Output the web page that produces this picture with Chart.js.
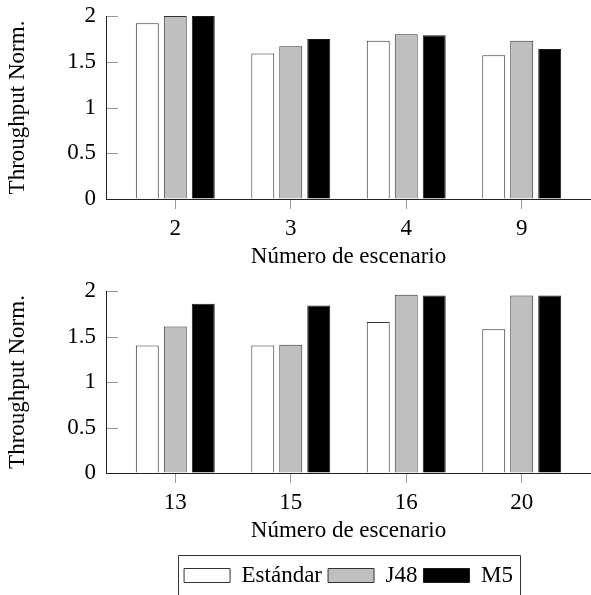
<!DOCTYPE html>
<html><head><meta charset="utf-8">
<script src="https://cdn.jsdelivr.net/npm/chart.js@4.4.1/dist/chart.umd.min.js"></script>
<style>
html,body{margin:0;padding:0;background:#fff;width:591px;height:595px;overflow:hidden;position:relative}
canvas{position:absolute;left:0;display:block}
</style></head><body>
<canvas id="chartTop" width="591" height="280" style="top:0"></canvas>
<canvas id="chartBot" width="591" height="327" style="top:270px"></canvas>
<script>
const seriesNames = ['Estándar', 'J48', 'M5'];
const topCategories = ['2', '3', '4', '9'];
const topEstandar = [1.92, 1.59, 1.73, 1.57];
const topJ48 = [2.00, 1.67, 1.80, 1.73];
const topM5 = [2.00, 1.75, 1.79, 1.64];
const botCategories = ['13', '15', '16', '20'];
const botEstandar = [1.40, 1.40, 1.66, 1.58];
const botJ48 = [1.61, 1.41, 1.96, 1.95];
const botM5 = [1.86, 1.84, 1.95, 1.95];
const yTicks = [0, 0.5, 1, 1.5, 2];
const yTickLabels = ['0', '0.5', '1', '1.5', '2'];
const yTitle = 'Throughput Norm.';
const xTitle = 'Número de escenario';

const FONT = 'Liberation Serif';
Chart.defaults.font.family = FONT;
Chart.defaults.font.size = 23;
Chart.defaults.color = '#000';

const fills = ['#ffffff', '#bfbfbf', '#000000'];
const borders = ['#333333', '#333333', '#1a1a1a'];

const insideTicks = {
  id: 'insideTicks',
  afterDatasetsDraw(chart) {
    const y = chart.scales.y, a = chart.chartArea, ctx = chart.ctx;
    ctx.save();
    ctx.strokeStyle = '#9a9a9a';
    ctx.lineWidth = 1;
    y.ticks.forEach(t => {
      if (t.value === 0) return;
      const py = Math.round(y.getPixelForValue(t.value)) + 0.5;
      ctx.beginPath();
      ctx.moveTo(a.left + 1, py);
      ctx.lineTo(a.left + 12, py);
      ctx.stroke();
    });
    ctx.restore();
  }
};

const legendBorder = {
  id: 'legendBorder',
  afterDraw(chart) {
    const lg = chart.legend;
    if (!lg || !lg.options.display || !lg.legendHitBoxes || !lg.legendHitBoxes.length) return;
    const hb = lg.legendHitBoxes;
    const first = hb[0], last = hb[hb.length - 1];
    const left = Math.round(first.left - 6) + 0.5;
    const right = Math.round(last.left + last.width + 7) + 0.5;
    const top = Math.round(first.top - 9) + 0.5;
    const ctx = chart.ctx;
    ctx.save();
    ctx.strokeStyle = '#333';
    ctx.lineWidth = 1;
    ctx.beginPath();
    ctx.moveTo(left, chart.height + 5);
    ctx.lineTo(left, top);
    ctx.lineTo(right, top);
    ctx.lineTo(right, chart.height + 5);
    ctx.stroke();
    ctx.restore();
  }
};

function makeDatasets(values) {
  return values.map((vals, k) => ({
    label: seriesNames[k],
    data: vals.map((v, i) => ({x: i, y: v})),
    backgroundColor: fills[k],
    borderColor: borders[k],
    borderWidth: 1,
    categoryPercentage: 0.727,
    barPercentage: 0.82
  }));
}

function makeChart(id, cats, values, padTop, showLegend, xHeight, titlePad) {
  return new Chart(document.getElementById(id), {
    type: 'bar',
    data: {datasets: makeDatasets(values)},
    options: {
      responsive: false,
      animation: false,
      devicePixelRatio: 1,
      layout: {padding: {top: padTop, left: 0, right: 0, bottom: 0}},
      plugins: {
        tooltip: {enabled: false},
        legend: {
          display: showLegend,
          position: 'bottom',
          fullSize: false,
          labels: {boxWidth: 46, boxHeight: 14, padding: 6, color: '#000',
                   font: {family: FONT, size: 23}}
        }
      },
      scales: {
        x: {
          type: 'linear',
          offset: false,
          min: -0.6, max: 3.6,
          afterBuildTicks: s => { s.ticks = cats.map((c, i) => ({value: i})); },
          afterFit: s => { s.height = xHeight; },
          ticks: {callback: v => cats[v], padding: 8, font: {size: 23, lineHeight: 1}, maxRotation: 0},
          grid: {offset: false, drawOnChartArea: false, drawTicks: true, tickLength: 10, tickColor: '#9a9a9a', tickWidth: 1},
          border: {display: true, color: '#222', width: 1},
          title: {display: true, text: xTitle, font: {size: 23}, padding: {top: 0, bottom: titlePad}}
        },
        y: {
          min: 0, max: 2,
          afterBuildTicks: s => { s.ticks = yTicks.map(v => ({value: v})); },
          afterFit: s => { s.width = 106; },
          ticks: {callback: (v, i) => yTickLabels[i], padding: 0, font: {size: 23}},
          grid: {drawOnChartArea: false, drawTicks: true, tickLength: 10, tickColor: 'rgba(0,0,0,0)'},
          border: {display: true, color: '#222', width: 1},
          title: {display: true, text: yTitle, font: {size: 23}, padding: {top: 4, bottom: 0}}
        }
      }
    },
    plugins: [insideTicks, legendBorder]
  });
}

makeChart('chartTop', topCategories, [topEstandar, topJ48, topM5], 16, false, 81, 9);
makeChart('chartBot', botCategories, [botEstandar, botJ48, botM5], 21, true, 85, 13);
</script>
</body></html>
